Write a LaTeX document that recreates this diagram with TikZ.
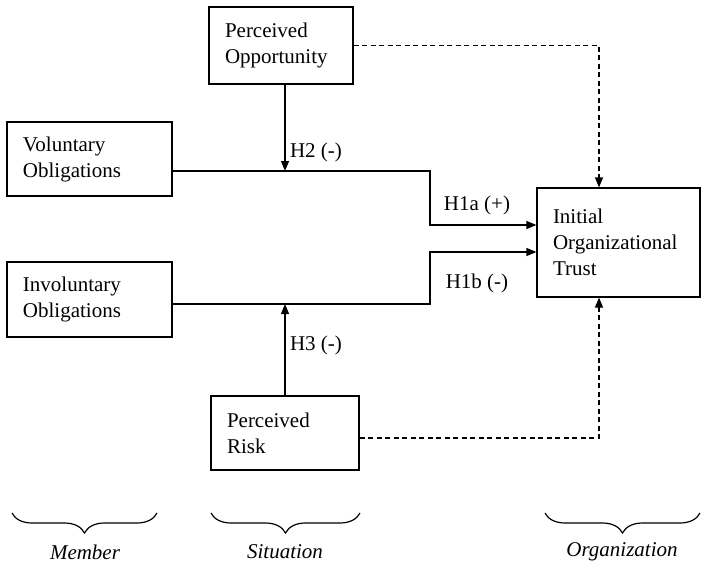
\documentclass[tikz,border=0pt]{standalone}
\usepackage{fontspec}
\setmainfont{Liberation Serif}
\usetikzlibrary{arrows.meta,decorations.pathreplacing}
\tikzset{
  box/.style={draw,line width=1.2pt,align=left,inner xsep=16pt,inner ysep=0pt},
  link/.style={line width=1.2pt},
  hint/.style={line width=1.2pt,dash pattern=on 5pt off 3.5pt},
  group/.style={decorate,decoration={brace,mirror,amplitude=20pt},line width=1.2pt},
  >={Triangle[length=10pt,width=8pt]}
}

\begin{document}
\begin{tikzpicture}[x=1pt,y=-1pt,font=\fontsize{21}{26}\selectfont]
    \useasboundingbox (0,0) rectangle (705,570);
    \node[box,text width=112pt,minimum height=77pt] at (281,45.5) (opp) {Perceived\\Opportunity};
    \node[box,text width=133pt,minimum height=74pt] at (89.5,159) (vol) {Voluntary\\Obligations};
    \node[box,text width=133pt,minimum height=75pt] at (89.5,299.5) (inv) {Involuntary\\Obligations};
    \node[box,text width=116pt,minimum height=74pt] at (285,433) (risk) {Perceived\\Risk};
    \node[box,text width=131pt,minimum height=109pt] at (618.5,242.5) (trust) {Initial\\Organizational\\Trust};
    \coordinate (h2) at (285,171);
    \coordinate (h3) at (285,304);
    \coordinate (ina) at (430,225);
    \coordinate (inb) at (430,252);
    \draw[link,->] (vol.east |- h2) -| (ina) -- (ina -| trust.west);
    \draw[link,->] (inv.east |- h3) -| (inb) -- (inb -| trust.west);
    \draw[link,->] (opp.south -| h2) -- (h2);
    \draw[link,->] (risk.north -| h3) -- (h3);
    \draw[hint,->] (opp.east) -| ([xshift=-19.5pt]trust.north);
    \draw[hint,->] ([yshift=-5pt]risk.east) -| ([xshift=-19.5pt]trust.south);
    \node at (316,152) (lh2) {H2 (-)};
    \node at (477,205) (lh1a) {H1a (+)};
    \node at (477,283) (lh1b) {H1b (-)};
    \node at (316,345) (lh3) {H3 (-)};
    \draw[group] (12,513) -- (157,513);
    \draw[group] (211,513) -- (360,513);
    \draw[group] (545,513) -- (700,513);
    \node[font=\fontsize{21}{26}\selectfont\itshape] at (85,552) (mem) {Member};
    \node[font=\fontsize{21}{26}\selectfont\itshape] at (285,552) (sit) {Situation};
    \node[font=\fontsize{21}{26}\selectfont\itshape] at (622,552) (org) {Organization};
\end{tikzpicture}
\end{document}
